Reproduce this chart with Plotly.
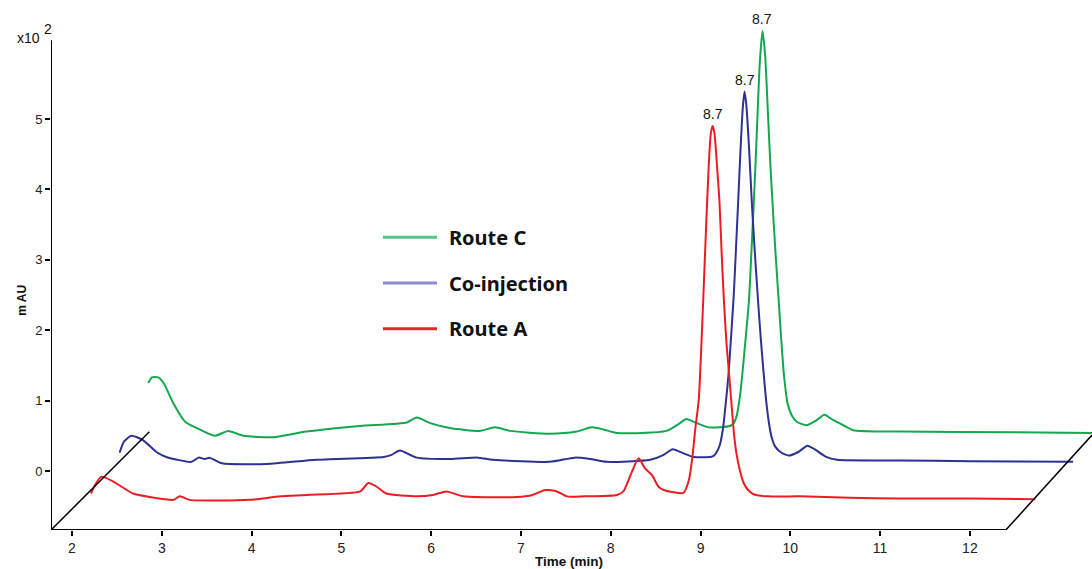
import plotly.graph_objects as go

# ---------------- data (time in displayed minutes, signal in x100 mAU) ----------------
red_t = [2.21, 2.27, 2.33, 2.46, 2.68, 2.87, 3.13, 3.20, 3.31, 3.61, 3.98, 4.32, 4.61, 5.21,
         5.30, 5.39, 5.50, 5.84, 6.02, 6.17, 6.36, 6.95, 7.13, 7.27, 7.40, 7.51, 7.70, 8.07,
         8.14, 8.23, 8.31, 8.38, 8.46, 8.53, 8.59, 8.81, 8.87, 8.91, 8.94, 8.98, 9.01, 9.03,
         9.06, 9.09, 9.115, 9.135, 9.155, 9.18, 9.21, 9.235, 9.26, 9.29, 9.32, 9.35, 9.375,
         9.40, 9.44, 9.48, 9.53, 9.59, 9.74, 10.11, 10.66, 11.22, 12.0, 12.73]
red_v = [-0.32, -0.17, -0.08, -0.15, -0.32, -0.37, -0.41, -0.36, -0.41, -0.42, -0.41, -0.36,
         -0.34, -0.29, -0.17, -0.22, -0.32, -0.36, -0.34, -0.29, -0.36, -0.37, -0.34, -0.27,
         -0.29, -0.36, -0.36, -0.34, -0.29, -0.03, 0.18, 0.04, -0.06, -0.22, -0.27, -0.31,
         -0.13, 0.20, 0.58, 1.01, 1.80, 2.43, 3.40, 4.30, 4.80, 4.90, 4.80, 4.40, 3.85, 3.10,
         2.43, 1.80, 1.35, 0.87, 0.50, 0.25, 0.00, -0.17, -0.27, -0.33, -0.36, -0.36, -0.38,
         -0.39, -0.39, -0.40]

blue_t = [2.53, 2.58, 2.66, 2.79, 2.94, 3.05, 3.33, 3.41, 3.48, 3.53, 3.67, 4.17, 4.72, 5.47,
          5.56, 5.65, 5.84, 6.21, 6.52, 6.69, 7.32, 7.60, 7.77, 7.95, 8.44, 8.59, 8.69, 8.81,
          8.92, 9.14, 9.21, 9.25, 9.28, 9.31, 9.34, 9.37, 9.40, 9.42, 9.445, 9.47, 9.49, 9.51,
          9.54, 9.57, 9.60, 9.64, 9.67, 9.70, 9.73, 9.76, 9.79, 9.83, 9.89, 9.98, 10.09, 10.19,
          10.27, 10.40, 10.52, 11.22, 12.0, 13.15]
blue_v = [0.26, 0.42, 0.50, 0.44, 0.27, 0.20, 0.13, 0.19, 0.17, 0.19, 0.11, 0.10, 0.16, 0.20,
          0.23, 0.29, 0.19, 0.17, 0.19, 0.16, 0.13, 0.19, 0.17, 0.13, 0.16, 0.23, 0.31, 0.25,
          0.20, 0.21, 0.35, 0.60, 0.95, 1.35, 1.90, 2.50, 3.30, 3.85, 4.55, 5.15, 5.39, 5.20,
          4.60, 3.85, 3.20, 2.43, 1.90, 1.43, 1.01, 0.70, 0.49, 0.35, 0.27, 0.22, 0.27, 0.36,
          0.31, 0.20, 0.16, 0.15, 0.14, 0.13]

green_t = [2.85, 2.89, 2.96, 3.02, 3.13, 3.26, 3.39, 3.59, 3.74, 3.91, 4.24, 4.61, 5.21, 5.73,
           5.84, 5.99, 6.21, 6.54, 6.71, 6.88, 7.32, 7.62, 7.79, 7.92, 8.07, 8.62, 8.77, 8.84,
           8.96, 9.09, 9.33, 9.37, 9.40, 9.43, 9.46, 9.50, 9.54, 9.57, 9.60, 9.63, 9.66, 9.69,
           9.72, 9.75, 9.78, 9.80, 9.835, 9.87, 9.90, 9.93, 9.97, 10.02, 10.07, 10.18, 10.29,
           10.38, 10.47, 10.59, 10.70, 11.22, 12.5, 13.4]
green_v = [1.25, 1.33, 1.33, 1.25, 0.96, 0.70, 0.61, 0.50, 0.57, 0.50, 0.48, 0.56, 0.64, 0.69,
           0.76, 0.68, 0.61, 0.57, 0.62, 0.57, 0.53, 0.56, 0.62, 0.59, 0.54, 0.57, 0.68, 0.74,
           0.68, 0.62, 0.64, 0.68, 0.77, 0.98, 1.30, 1.85, 2.43, 3.20, 4.00, 4.90, 5.80, 6.25,
           5.90, 5.10, 4.30, 3.85, 3.10, 2.43, 1.85, 1.35, 0.96, 0.78, 0.70, 0.65, 0.72, 0.80,
           0.73, 0.65, 0.58, 0.56, 0.55, 0.54]

series_names = ["Route C", "Co-injection", "Route A"]
peak_labels = ["8.7", "8.7", "8.7"]
x_ticks = [2, 3, 4, 5, 6, 7, 8, 9, 10, 11, 12]
y_ticks = [0, 1, 2, 3, 4, 5]

# ---------------- styling ----------------
trace_colors = ["#12a84f", "#2e3192", "#ec1c24"]
legend_colors = ["#55c487", "#8e8ad0", "#e8242c"]
X_RANGE = [1.766, 13.36]
Y_RANGE = [-0.838, 6.62]
AXIS_X_END = 12.40
AXIS_Y_TOP = 6.12
FONT = "Liberation Sans, Arial"

series = [(green_t, green_v), (blue_t, blue_v), (red_t, red_v)]

fig = go.Figure()
for (t, v), name, col in zip(series, series_names, trace_colors):
    fig.add_trace(go.Scatter(x=t, y=v, mode="lines", name=name,
                             line=dict(color=col, width=2, shape="spline", smoothing=0.6),
                             showlegend=False, hoverinfo="skip"))

shapes = []
# axis lines
shapes.append(dict(type="line", xref="x", yref="y", x0=X_RANGE[0], x1=AXIS_X_END,
                   y0=Y_RANGE[0], y1=Y_RANGE[0], line=dict(color="black", width=2)))
shapes.append(dict(type="line", xref="x", yref="y", x0=X_RANGE[0], x1=X_RANGE[0],
                   y0=Y_RANGE[0], y1=AXIS_Y_TOP, line=dict(color="black", width=2)))
# pseudo-3D depth lines
shapes.append(dict(type="line", xref="x", yref="y", x0=X_RANGE[0], x1=2.861,
                   y0=Y_RANGE[0], y1=0.558, line=dict(color="black", width=1.5)))
shapes.append(dict(type="line", xref="x", yref="y", x0=AXIS_X_END, x1=13.36,
                   y0=Y_RANGE[0], y1=0.51, line=dict(color="black", width=1.5)))

annotations = []
# legend (manual)
leg_y = [3.32, 2.67, 2.02]
for name, col, ly in zip(series_names, legend_colors, leg_y):
    shapes.append(dict(type="line", xref="x", yref="y", x0=5.463, x1=6.065, y0=ly, y1=ly,
                       line=dict(color=col, width=3)))
    annotations.append(dict(x=6.176, y=ly, xref="x", yref="y", text="<b>" + name + "</b>",
                            showarrow=False, xanchor="left", yanchor="middle",
                            font=dict(family="Noto Sans", size=20, color="#111")))
# peak labels
for (t, v), lab in zip(series, peak_labels):
    i = max(range(len(v)), key=lambda k: v[k])
    annotations.append(dict(x=t[i], y=v[i], xref="x", yref="y", text=lab, showarrow=False,
                            xanchor="center", yanchor="bottom", yshift=2,
                            font=dict(family=FONT, size=14, color="#111")))
# axis titles / multiplier
annotations.append(dict(x=-0.028, y=2.43, xref="paper", yref="y", text="<b>m AU</b>",
                        textangle=-90, showarrow=False, xanchor="center", yanchor="middle",
                        font=dict(family=FONT, size=12, color="#111")))
annotations.append(dict(x=7.53, y=-0.838, xref="x", yref="y", text="<b>Time (min)</b>",
                        showarrow=False, xanchor="center", yanchor="middle", yshift=-31,
                        font=dict(family=FONT, size=13.5, color="#111")))
annotations.append(dict(x=-0.009, y=6.15, xref="paper", yref="y", text="x10",
                        showarrow=False, xanchor="right", yanchor="middle",
                        font=dict(family=FONT, size=14, color="#111")))
annotations.append(dict(x=-0.009, y=6.28, xref="paper", yref="y", text="2",
                        showarrow=False, xanchor="left", yanchor="middle",
                        font=dict(family=FONT, size=14, color="#111")))

fig.update_layout(
    width=1092, height=569,
    margin=dict(l=51, r=0, t=5, b=39),
    paper_bgcolor="white", plot_bgcolor="white",
    shapes=shapes, annotations=annotations,
    xaxis=dict(range=X_RANGE, tickvals=x_ticks, ticks="outside", ticklen=5, tickwidth=1.5,
               tickcolor="black", showgrid=False, zeroline=False, showline=False,
               tickfont=dict(family=FONT, size=14, color="#222")),
    yaxis=dict(range=Y_RANGE, tickvals=y_ticks, ticks="outside", ticklen=5, tickwidth=1.5,
               tickcolor="black", showgrid=False, zeroline=False, showline=False,
               tickfont=dict(family=FONT, size=13, color="#222")),
)

fig.write_html("out.html")
